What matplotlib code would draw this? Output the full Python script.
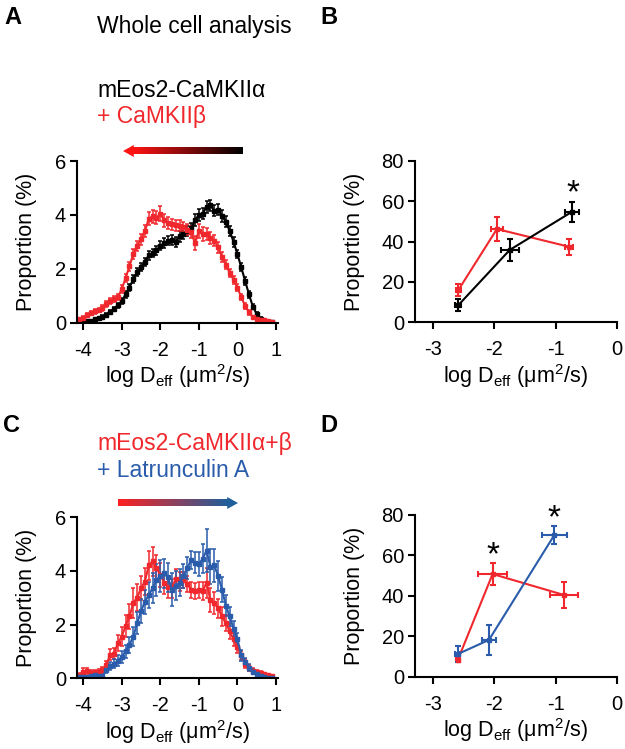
import numpy as np
import matplotlib
matplotlib.use("Agg")
import matplotlib.pyplot as plt
from matplotlib.patches import Polygon
from matplotlib.colors import LinearSegmentedColormap

plt.rcParams["font.family"] = ["Liberation Sans", "DejaVu Sans"]
plt.rcParams["mathtext.fontset"] = "custom"
plt.rcParams["mathtext.rm"] = "Liberation Sans"
plt.rcParams["mathtext.it"] = "Liberation Sans:italic"
plt.rcParams["axes.unicode_minus"] = False

RED = "#f0282d"
BLUE = "#2a5cab"
BLACK = "#000000"

# ---- histogram bins (log Deff), panels A and C ----
bins = np.round(np.arange(-41, 10) / 10, 1)

# panel A : mEos2-CaMKIIa (black) vs + CaMKIIb (red)
a_black = [0.02, 0.03, 0.05, 0.08, 0.12, 0.17, 0.23, 0.30, 0.40, 0.52,
           0.65, 0.80, 1.05, 1.30, 1.62, 1.88, 2.05, 2.25, 2.50, 2.58,
           2.68, 2.85, 2.95, 3.05, 3.08, 3.00, 3.20, 3.30, 3.40, 3.50,
           3.80, 4.00, 4.05, 4.30, 4.35, 4.15, 4.20, 3.95, 3.75, 3.40,
           3.00, 2.55, 2.05, 1.55, 1.05, 0.60, 0.32, 0.15, 0.08, 0.04, 0.02]
a_black_err = [0.02, 0.02, 0.03, 0.03, 0.04, 0.05, 0.05, 0.06, 0.07, 0.08,
               0.09, 0.10, 0.12, 0.13, 0.14, 0.14, 0.15, 0.15, 0.16, 0.16,
               0.17, 0.17, 0.18, 0.18, 0.18, 0.18, 0.20, 0.20, 0.20, 0.20,
               0.22, 0.22, 0.20, 0.22, 0.20, 0.20, 0.22, 0.22, 0.20, 0.20,
               0.18, 0.16, 0.15, 0.14, 0.12, 0.10, 0.08, 0.05, 0.04, 0.03, 0.02]
a_red = [0.12, 0.18, 0.28, 0.35, 0.42, 0.47, 0.55, 0.70, 0.80, 0.88,
         0.95, 1.25, 1.65, 2.10, 2.55, 2.85, 3.10, 3.40, 3.85, 3.95,
         3.90, 4.05, 3.80, 3.70, 3.65, 3.62, 3.60, 3.55, 3.45, 3.35,
         2.95, 3.40, 3.30, 3.30, 3.15, 3.05, 2.80, 2.45, 2.15, 1.85,
         1.60, 1.30, 0.95, 0.62, 0.38, 0.20, 0.12, 0.10, 0.10, 0.06, 0.03]
a_red_err = [0.05, 0.06, 0.07, 0.08, 0.08, 0.09, 0.10, 0.10, 0.11, 0.12,
             0.12, 0.14, 0.15, 0.17, 0.18, 0.20, 0.20, 0.22, 0.24, 0.25,
             0.25, 0.28, 0.25, 0.22, 0.20, 0.20, 0.20, 0.20, 0.20, 0.22,
             0.25, 0.25, 0.25, 0.22, 0.22, 0.20, 0.20, 0.18, 0.17, 0.16,
             0.15, 0.14, 0.12, 0.10, 0.08, 0.06, 0.05, 0.05, 0.05, 0.04, 0.03]

# panel C : mEos2-CaMKIIa+b (red) vs + Latrunculin A (blue)
c_red = [0.10, 0.25, 0.28, 0.20, 0.22, 0.25, 0.30, 0.50, 0.88, 0.92,
         1.30, 1.55, 1.95, 2.30, 2.80, 3.00, 3.35, 3.60, 4.20, 4.35,
         4.10, 3.85, 3.55, 3.40, 3.35, 3.70, 3.60, 3.65, 3.50, 3.30,
         3.25, 3.30, 3.25, 3.55, 2.90, 2.80, 2.60, 2.30, 2.05, 1.75,
         1.45, 1.15, 0.85, 0.55, 0.38, 0.28, 0.22, 0.18, 0.15, 0.12, 0.08]
c_red_err = [0.08, 0.12, 0.12, 0.10, 0.10, 0.10, 0.12, 0.15, 0.20, 0.22,
             0.30, 0.35, 0.40, 0.45, 0.55, 0.50, 0.45, 0.50, 0.55, 0.55,
             0.50, 0.45, 0.40, 0.40, 0.35, 0.35, 0.35, 0.30, 0.30, 0.30,
             0.30, 0.30, 0.35, 0.55, 0.45, 0.40, 0.35, 0.35, 0.30, 0.30,
             0.25, 0.20, 0.18, 0.15, 0.12, 0.10, 0.08, 0.08, 0.06, 0.05, 0.04]
c_blue = [0.03, 0.04, 0.05, 0.08, 0.12, 0.10, 0.08, 0.30, 0.45, 0.55,
          0.65, 0.80, 1.00, 1.25, 1.55, 2.05, 2.50, 2.85, 3.10, 3.35,
          3.65, 3.80, 3.90, 3.75, 3.30, 3.45, 3.55, 3.80, 4.10, 4.40,
          4.30, 4.25, 4.45, 4.75, 4.15, 4.20, 3.80, 3.30, 2.70, 2.30,
          1.85, 1.45, 0.85, 0.60, 0.40, 0.25, 0.15, 0.08, 0.04, 0.02, 0.01]
c_blue_err = [0.03, 0.03, 0.04, 0.05, 0.06, 0.06, 0.06, 0.12, 0.15, 0.18,
              0.20, 0.22, 0.25, 0.30, 0.35, 0.40, 0.45, 0.45, 0.50, 0.55,
              0.60, 0.60, 0.55, 0.55, 0.60, 0.55, 0.50, 0.45, 0.40, 0.35,
              0.40, 0.45, 0.55, 0.80, 0.65, 0.60, 0.55, 0.45, 0.40, 0.35,
              0.30, 0.25, 0.20, 0.15, 0.12, 0.10, 0.08, 0.05, 0.04, 0.03, 0.02]

# panel B : three populations
b_black_x = [-2.59, -1.75, -0.73]
b_black_y = [8.4, 35.8, 54.8]
b_black_xerr = [0.05, 0.15, 0.11]
b_black_yerr = [3.0, 5.5, 5.0]
b_red_x = [-2.59, -1.96, -0.78]
b_red_y = [15.9, 46.2, 37.4]
b_red_xerr = [0.04, 0.10, 0.07]
b_red_yerr = [3.0, 5.8, 4.0]
b_star = [(-0.72, 69.0)]

# panel D
d_red_x = [-2.60, -2.03, -0.86]
d_red_y = [8.3, 50.8, 40.4]
d_red_xerr = [0.03, 0.235, 0.225]
d_red_yerr = [1.0, 5.3, 6.6]
d_blue_x = [-2.60, -2.09, -1.02]
d_blue_y = [11.2, 18.2, 70.1]
d_blue_xerr = [0.04, 0.11, 0.20]
d_blue_yerr = [3.9, 7.4, 4.5]
d_star = [(-2.03, 65.2), (-1.02, 83.4)]

W, H = 625, 749
fig = plt.figure(figsize=(W / 100, H / 100), dpi=100)


def rect(x0, y0, x1, y1):
    # pixel box (top-left origin) -> figure fraction
    return [x0 / W, 1 - y1 / H, (x1 - x0) / W, (y1 - y0) / H]


def ftext(x, y, s, **kw):
    fig.text(x / W, 1 - y / H, s, **kw)


XLABEL = "log D$_{\\mathrm{eff}}$ (\u03bcm$^{2}$/s)"


def style(ax):
    for s in ["top", "right"]:
        ax.spines[s].set_visible(False)
    for s in ["left", "bottom"]:
        ax.spines[s].set_linewidth(1.5)
    ax.tick_params(direction="out", length=5, width=1.5, labelsize=14.5)
    ax.tick_params(axis="x", pad=8)
    ax.tick_params(axis="y", pad=3)
    ax.set_ylabel("Proportion (%)", fontsize=15.5)
    ax.set_xlabel(XLABEL, fontsize=15.5, labelpad=2)


def hist_panel(ax, series):
    for y, e, c in series:
        ax.errorbar(bins, y, yerr=e, color=c, marker="s", ms=3.5, lw=1.5,
                    elinewidth=1.1, capsize=1.5, capthick=1.1)
    ax.set_xlim(-4.16, 1.06)
    ax.set_ylim(0, 6)
    ax.set_xticks([-4, -3, -2, -1, 0, 1])
    ax.set_yticks([0, 2, 4, 6])
    style(ax)
    ax.yaxis.labelpad = 13


def pop_panel(ax, series, stars):
    for x, y, xe, ye, c in series:
        ax.errorbar(x, y, xerr=xe, yerr=ye, color=c, marker="s", ms=3,
                    lw=1.5, elinewidth=1.5, capsize=2.5, capthick=1.5)
    for sx, sy in stars:
        ax.annotate("*", (sx, sy), xytext=(0, -14), textcoords="offset points",
                    fontsize=24, ha="center", va="baseline",
                    annotation_clip=False)
    ax.set_xlim(-3.3, 0)
    ax.set_ylim(0, 80)
    ax.set_xticks([-3, -2, -1, 0])
    ax.set_yticks([0, 20, 40, 60, 80])
    style(ax)
    ax.yaxis.labelpad = 12


axA = fig.add_axes(rect(77, 161, 278.3, 322.7))
hist_panel(axA, [(a_black, a_black_err, BLACK), (a_red, a_red_err, RED)])

axB = fig.add_axes(rect(415, 161, 616.7, 322))
pop_panel(axB, [(b_red_x, b_red_y, b_red_xerr, b_red_yerr, RED),
                (b_black_x, b_black_y, b_black_xerr, b_black_yerr, BLACK)], b_star)

axC = fig.add_axes(rect(77, 517, 278.3, 678.3))
hist_panel(axC, [(c_red, c_red_err, RED), (c_blue, c_blue_err, BLUE)])

axD = fig.add_axes(rect(415, 515, 616.7, 676.7))
pop_panel(axD, [(d_red_x, d_red_y, d_red_xerr, d_red_yerr, RED),
                (d_blue_x, d_blue_y, d_blue_xerr, d_blue_yerr, BLUE)], d_star)


# gradient arrows
def grad_arrow(box, c_left, c_right, head_left):
    ax = fig.add_axes(rect(*box))
    ax.set_xlim(0, 1)
    ax.set_ylim(0, 1)
    ax.axis("off")
    hf = 0.09
    cmap = LinearSegmentedColormap.from_list("g", [c_left, c_right])
    grad = np.linspace(0, 1, 256).reshape(1, -1)
    if head_left:
        ext = (hf - 0.005, 1, 0.22, 0.78)
        head = [(0, 0.5), (hf, 0.0), (hf, 1.0)]
        hc = c_left
    else:
        ext = (0, 1 - hf + 0.005, 0.22, 0.78)
        head = [(1, 0.5), (1 - hf, 0.0), (1 - hf, 1.0)]
        hc = c_right
    ax.imshow(grad, cmap=cmap, extent=ext, aspect="auto", interpolation="bilinear")
    ax.add_patch(Polygon(head, closed=True, color=hc, lw=0))


grad_arrow((123, 145, 243, 157), "#ff1414", "#000000", True)
grad_arrow((118, 497, 238, 509), "#ff2020", "#1f5f9a", False)

# panel letters and texts
for lab, x, y in [("A", 4, 24), ("B", 320, 24), ("C", 3, 432), ("D", 320, 432)]:
    ftext(x, y, lab, fontsize=17, fontweight="bold", va="baseline")

ftext(97, 33, "Whole cell analysis", fontsize=16.5, va="baseline")
ftext(97, 97, "mEos2-CaMKII\u03b1", fontsize=16.5, va="baseline")
ftext(97, 123, "+ CaMKII\u03b2", fontsize=16.5, va="baseline", color=RED)
ftext(97, 450, "mEos2-CaMKII\u03b1+\u03b2", fontsize=16.5, va="baseline", color=RED)
ftext(97, 477, "+ Latrunculin A", fontsize=16.5, va="baseline", color=BLUE)

fig.savefig("out.png", dpi=100)
